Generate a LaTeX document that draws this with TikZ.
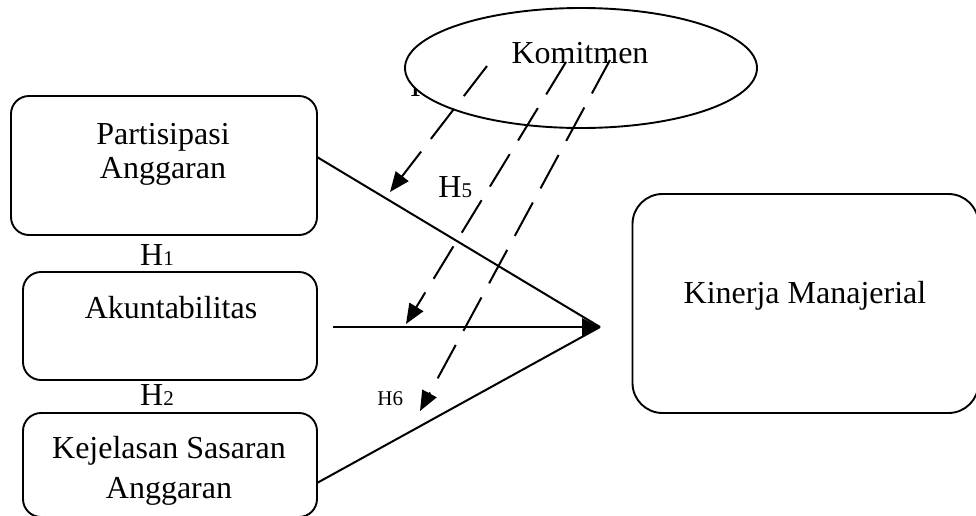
\documentclass[tikz,border=0pt]{standalone}
\usepackage{fontspec}
\setmainfont{Liberation Serif}
\usetikzlibrary{arrows.meta,shapes.geometric}
\newcommand\hsub[1]{H{\fontsize{10.5}{12}\selectfont #1}}
\begin{document}
\begin{tikzpicture}[x=0.5pt,y=-0.5pt,
  box/.style={draw,line width=0.95pt,rounded corners=9pt,inner sep=0pt},
  txt/.style={font=\fontsize{16}{17}\selectfont,align=center,inner sep=0pt},
  conn/.style={line width=1pt},
  dashconn/.style={line width=1pt,dash pattern=on 19pt off 8pt,-{Triangle[length=10pt,width=8pt]}},
]
\useasboundingbox (0,0) rectangle (976,515);
\clip (0,0) rectangle (976,515);

% boxes
\node[box,minimum width=153pt,minimum height=69.5pt] (pa) at (164,165.5) {};
\node[box,minimum width=147pt,minimum height=54pt] (ak) at (170,326) {};
\node[box,minimum width=147pt,minimum height=52pt] (kj) at (170,465) {};
\node[box,rounded corners=15pt,minimum width=173pt,minimum height=109.5pt] (km) at (805.5,303.5) {};

% box texts
\node[txt] (pat) at (163,154) {Partisipasi\\Anggaran};
\node[txt,anchor=base] (akt) at (171,318) {Akuntabilitas};
\node[txt,font=\fontsize{16}{20}\selectfont] (kjt) at (169,470.6) {Kejelasan Sasaran\\Anggaran};
\node[txt,anchor=base] (kmt) at (805,303) {Kinerja Manajerial};

% hypothesis labels
\node[txt,anchor=base] (h1) at (157,265) {\hsub{1}};
\node[txt,anchor=base] (h2) at (157,405) {\hsub{2}};
\node[txt,anchor=base west] (h5) at (438,197) {\hsub{5}};
\node[txt,anchor=base west,font=\fontsize{10.5}{12}\selectfont] (h6) at (377,405) {H6};
\node[txt,anchor=base west] (h4) at (410,96) {\hsub{4}};

% moderator ellipse
\node[ellipse,draw,fill=white,line width=0.95pt,inner sep=0pt,minimum width=176pt,minimum height=60pt] (ko) at (581,68) {};
\node[txt,anchor=base] (kot) at (580,63) {Komitmen};

% main connectors
\coordinate (tip) at (600,327);
\coordinate (pa-o) at (317,157);
\coordinate (ak-o) at (333,327);
\coordinate (kj-o) at (317,483);
\draw[conn] (pa-o) -- (tip);
\draw[conn] (kj-o) -- (tip);
\draw[conn,line width=1.4pt,-{Triangle[length=9pt,width=8.5pt]}] (ak-o) -- (tip);

% moderating dashed arrows
\coordinate (d1s) at (487,66); \coordinate (d1e) at (390,192);
\coordinate (d2s) at (566,62); \coordinate (d2e) at (406,324);
\coordinate (d3s) at (610,60); \coordinate (d3e) at (420,411);
\draw[dashconn] (d1s) -- (d1e);
\draw[dashconn] (d2s) -- (d2e);
\draw[dashconn] (d3s) -- (d3e);
\end{tikzpicture}
\end{document}
